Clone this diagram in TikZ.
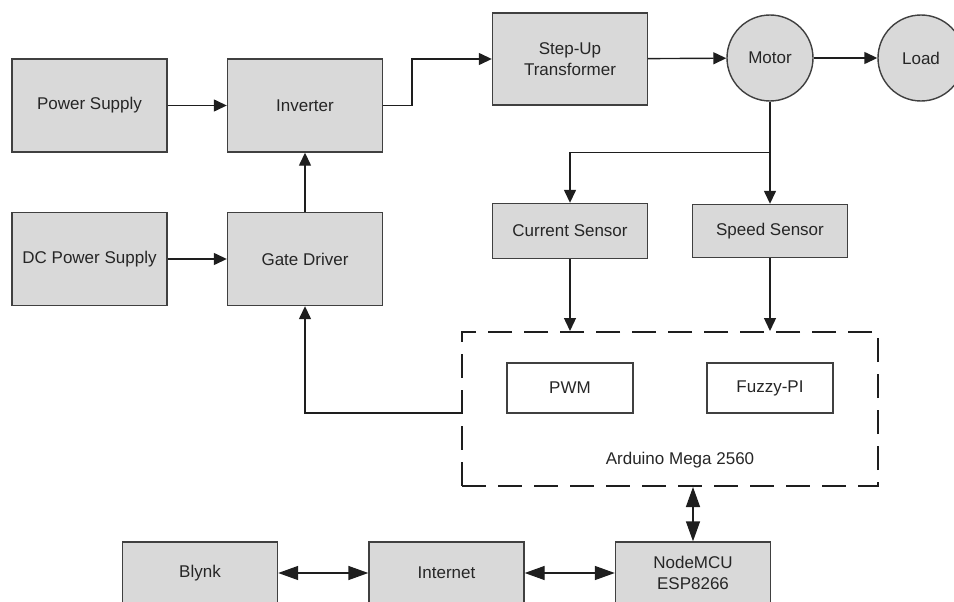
\documentclass[tikz,border=0pt]{standalone}
\usepackage{fontspec}
\setmainfont{Liberation Sans}
\usetikzlibrary{arrows.meta}
\definecolor{boxfill}{HTML}{D9D9D9}
\definecolor{boxline}{HTML}{404040}
\definecolor{wire}{HTML}{1E1E1E}
\definecolor{txt}{HTML}{262626}

\begin{document}
\begin{tikzpicture}[x=1pt, y=-1pt, line width=1.4pt,
  every node/.style={font=\fontsize{17}{21}\selectfont, text=txt, align=center},
  block/.style={draw=boxline, fill=boxfill, rectangle, inner sep=0pt, minimum width=155pt, minimum height=93pt},
  sensor/.style={block, minimum height=55pt},
  netbox/.style={block, minimum height=62pt},
  inner/.style={draw=boxline, fill=white, rectangle, inner sep=0pt, minimum width=126pt, minimum height=50pt},
  circ/.style={draw=boxline, fill=boxfill, circle, inner sep=0pt, minimum size=86pt},
  arr/.style={draw=wire, -{Triangle[length=13pt, width=12pt]}},
  darr/.style={draw=wire, {Triangle[length=20pt, width=14pt]}-{Triangle[length=20pt, width=14pt]}}]
  \useasboundingbox (0,0) rectangle (954,602);

  % Nodes
  \node[block] (PS) at (89.5,105.5) {Power Supply};
  \node[block] (INV) at (305,105.5) {Inverter};
  \node[block] (DC) at (89.5,259) {DC Power Supply};
  \node[block] (GD) at (305,259) {Gate Driver};
  \node[block, minimum height=92pt] (TR) at (570,59) {Step-Up\\Transformer};
  \node[circ] (M) at (770,58) {Motor};
  \node[circ] (L) at (921,58) {Load};
  \node[sensor] (CS) at (570,231) {Current Sensor};
  \node[sensor, minimum height=53pt] (SS) at (770,231) {Speed Sensor};

  % Arduino board
  \node[draw=wire, dash pattern=on 24pt off 12pt, line width=2pt, rectangle,
        minimum width=416pt, minimum height=154pt, inner sep=0pt] (ARD) at (670,409) {};
  \node[inner] (PWM) at (570,388) {PWM};
  \node[inner] (FPI) at (770,388) {Fuzzy-PI};
  \node (ARDL) at (680,460) {Arduino Mega 2560};

  \node[netbox] (BL) at (200,573) {Blynk};
  \node[netbox] (NET) at (446.5,573) {Internet};
  \node[netbox] (MCU) at (693,573) {NodeMCU\\ESP8266};

  % Edges
  \draw[arr] (PS) -- (INV);
  \draw[arr] (DC) -- (GD);
  \draw[arr] (GD) -- (INV);
  \draw[arr] (INV.east) -- (412,105.5) -- (412,59) -- (TR.west);
  \draw[arr] (TR) -- (M);
  \draw[arr] (M) -- (L);
  \draw[arr] (M.south) -- (SS.north);
  \draw[arr] (770,152.5) -- (570,152.5) -- (CS.north);
  \draw[arr] (CS.south) -- (CS.south |- ARD.north);
  \draw[arr] (SS.south) -- (SS.south |- ARD.north);
  \draw[arr] (ARD.west |- 0,413) -- (305,413) -- (GD.south);
  \draw[darr] (MCU.north |- ARD.south) -- (MCU.north);
  \draw[darr] (BL) -- (NET);
  \draw[darr] (NET) -- (MCU);
\end{tikzpicture}
\end{document}
